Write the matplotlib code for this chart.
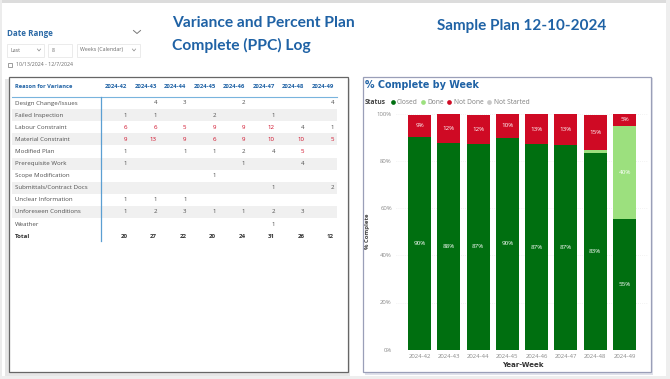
import matplotlib
matplotlib.use('Agg')
import matplotlib.pyplot as plt
from matplotlib.patches import Rectangle

plt.rcParams['font.family'] = ['Open Sans', 'DejaVu Sans']

W, H = 670, 379

# table data
weeks = ['2024-42', '2024-43', '2024-44', '2024-45', '2024-46', '2024-47', '2024-48', '2024-49']
reasons = ['Design Change/Issues', 'Failed Inspection', 'Labour Constraint', 'Material Constraint',
           'Modified Plan', 'Prerequisite Work', 'Scope Modification', 'Submittals/Contract Docs',
           'Unclear Information', 'Unforeseen Conditions', 'Weather']
design = [None, 4, 3, None, 2, None, None, 4]
failed = [1, 1, None, 2, None, 1, None, None]
labour = [6, 6, 5, 9, 9, 12, 4, 1]
material = [9, 13, 9, 6, 9, 10, 10, 5]
modified = [1, None, 1, 1, 2, 4, 5, None]
prereq = [1, None, None, None, 1, None, 4, None]
scope = [None, None, None, 1, None, None, None, None]
submittals = [None, None, None, None, None, 1, None, 2]
unclear = [1, 1, 1, None, None, None, None, None]
unforeseen = [1, 2, 3, 1, 1, 2, 3, None]
weather = [None, None, None, None, None, 1, None, None]
totals = [20, 27, 22, 20, 24, 31, 26, 12]
rows = [design, failed, labour, material, modified, prereq, scope, submittals, unclear, unforeseen, weather]

# chart data
closed = [90.2, 87.7, 87.2, 89.8, 87.0, 86.6, 83.3, 55.4]
done = [0, 0, 0, 0, 0, 0, 1.2, 39.5]
not_done = [9.4, 12.2, 12.4, 10.2, 13.0, 13.4, 14.9, 5.1]
closed_labels = ['90%', '88%', '87%', '90%', '87%', '87%', '83%', '55%']
done_labels = {7: '40%'}
not_done_labels = ['9%', '12%', '12%', '10%', '13%', '13%', '15%', '5%']

BLUE = '#1f62a5'
GREEN = '#006f10'
LIGHT = '#9ce07e'
RED = '#cf0a24'
GREY = '#6a6a6a'
TEXT = '#505050'

fig = plt.figure(figsize=(W / 100, H / 100), dpi=100, facecolor='white')

# whole picture in pixel coordinates for the page furniture
bg = fig.add_axes([0, 0, 1, 1])
bg.set_xlim(0, W)
bg.set_ylim(H, 0)
bg.axis('off')

bg.add_patch(Rectangle((0, 0), W, 2.5, fc='#dcdcdc', ec='none'))
bg.add_patch(Rectangle((0, 0), 2, H, fc='#ececec', ec='none'))
bg.add_patch(Rectangle((666, 0), 4, H, fc='#eeeeee', ec='none'))
bg.add_patch(Rectangle((0, 376), W, 3, fc='#eeeeee', ec='none'))

# titles
bg.text(172.5, 23, 'Variance and Percent Plan', color=BLUE, fontsize=11.25, fontweight='bold', family='Lato', va='center')
bg.text(172.5, 45, 'Complete (PPC) Log', color=BLUE, fontsize=11.25, fontweight='bold', family='Lato', va='center')
bg.text(437, 26, 'Sample Plan 12-10-2024', color=BLUE, fontsize=11.0, fontweight='bold', family='Lato', va='center')

# date range slicer
bg.text(7, 34, 'Date Range', color='#2c6aa6', fontsize=5.8, fontweight='bold', va='center')
bg.plot([133.5, 137, 140.5], [30.5, 33.5, 30.5], color='#777777', lw=0.7)
for x0, x1 in [(7, 44), (48, 72), (77, 140)]:
    bg.add_patch(Rectangle((x0, 44), x1 - x0, 12.5, fc='white', ec='#e8e8e8', lw=0.6))
bg.text(10.5, 50, 'Last', color=GREY, fontsize=3.8, va='center')
bg.text(52, 50, '8', color=GREY, fontsize=3.8, va='center')
bg.text(80, 50, 'Weeks (Calendar)', color=GREY, fontsize=3.8, va='center')
for cx in [39, 134]:
    bg.plot([cx - 1.6, cx, cx + 1.6], [49, 51, 49], color='#888888', lw=0.5)
bg.add_patch(Rectangle((7.5, 62.5), 4, 4, fc='white', ec='#777777', lw=0.5))
bg.text(16, 64.5, '10/13/2024 - 12/7/2024', color=GREY, fontsize=3.8, va='center')

# table panel with a soft shadow
bg.add_patch(Rectangle((5, 79), 345, 297, fc='#e6e6e6', ec='none'))
bg.add_patch(Rectangle((8.5, 76.5), 339, 295.5, fc='white', ec='#666666', lw=0.9))
row_ys = [103 + 12.1 * i for i in range(len(rows))]
total_y = 236
for i, y in enumerate(row_ys):
    if i % 2 == 1:
        bg.add_patch(Rectangle((12, y - 6), 325, 12.1, fc='#f0f0f0', ec='none'))
bg.plot([12, 337], [96.5, 96.5], color='#79b4dd', lw=0.8)
bg.plot([100.5, 100.5], [96.5, 241], color='#5b9fd2', lw=0.9)
bg.text(15, 86, 'Reason for Variance', color=BLUE, fontsize=4.15, fontweight='bold', va='center')

col_right = [127.5 + 29.5 * i for i in range(len(weeks))]
for x, wk in zip(col_right, weeks):
    bg.text(x, 86, wk, color=BLUE, fontsize=4.3, fontweight='bold', va='center', ha='right')
for y, name, vals in zip(row_ys, reasons, rows):
    bg.text(15, y, name, color=TEXT, fontsize=4.4, va='center')
    for x, v in zip(col_right, vals):
        if v is not None:
            bg.text(x, y, str(v), color=RED if v >= 5 else TEXT, fontsize=4.4, va='center', ha='right')
bg.text(15, total_y, 'Total', color='#333333', fontsize=4.4, fontweight='bold', va='center')
for x, v in zip(col_right, totals):
    bg.text(x, total_y, str(v), color='#333333', fontsize=4.4, fontweight='bold', va='center', ha='right')

# chart panel with a soft shadow
bg.add_patch(Rectangle((364.5, 78), 288, 297, fc='#dfe1ea', ec='none'))
bg.add_patch(Rectangle((362.5, 76.5), 288, 295, fc='white', ec='#9a9fb8', lw=0.9))
bg.text(365, 85, '% Complete by Week', color=BLUE, fontsize=6.9, fontweight='bold', family='DejaVu Sans', va='center')

bg.text(365, 102, 'Status', color='#444444', fontsize=4.8, fontweight='bold', va='center')
legend = [('Closed', GREEN, 392.5), ('Done', LIGHT, 423), ('Not Done', RED, 449), ('Not Started', '#c8c8c8', 489)]
for name, col, x in legend:
    bg.plot([x], [102], 'o', color=col, ms=3.4, mew=0)
    bg.text(x + 4.5, 102, name, color='#808080', fontsize=4.8, va='center')

# stacked bars, placed so the axis lines up with the panel
left, right, top, bottom = 396, 648, 113.7, 349.7
ax = fig.add_axes([left / W, 1 - bottom / H, (right - left) / W, (bottom - top) / H])
ax.patch.set_alpha(0)
xs = list(range(len(weeks)))
bottoms_red = [c + d for c, d in zip(closed, done)]
ax.bar(xs, closed, width=0.785, color=GREEN, zorder=3)
ax.bar(xs, done, width=0.785, bottom=closed, color=LIGHT, zorder=3)
ax.bar(xs, not_done, width=0.785, bottom=bottoms_red, color=RED, zorder=3)

step = 29.29
ax.set_xlim(-(419.5 - left) / step, (right - 419.5) / step)
ax.set_ylim(0, 100)
ax.set_xticks(xs)
ax.set_xticklabels(weeks)
ax.set_yticks([0, 20, 40, 60, 80, 100])
ax.set_yticklabels(['0%', '20%', '40%', '60%', '80%', '100%'])
ax.tick_params(length=0, labelsize=4.3, labelcolor='#8a8a8a', pad=3)
for s in ax.spines.values():
    s.set_visible(False)
ax.grid(axis='y', color='#e8e8e8', lw=0.5, ls=(0, (1, 2)), zorder=0)

for i in xs:
    ax.text(i, closed[i] / 2, closed_labels[i], color='white', fontsize=4.5, ha='center', va='center', zorder=4)
    ax.text(i, bottoms_red[i] + not_done[i] / 2, not_done_labels[i], color='white', fontsize=4.5,
            ha='center', va='center', zorder=4)
for i, lab in done_labels.items():
    ax.text(i, closed[i] + done[i] / 2, lab, color='white', fontsize=4.5, ha='center', va='center', zorder=4)

bg.text(522.5, 365, 'Year-Week', color='#333333', fontsize=5.0, fontweight='bold', family='DejaVu Sans',
        ha='center', va='center')
bg.text(368, 231.5, '% Complete', color='#444444', fontsize=4.3, fontweight='bold',
        rotation=90, ha='center', va='center')

fig.savefig('out.png', dpi=100)
